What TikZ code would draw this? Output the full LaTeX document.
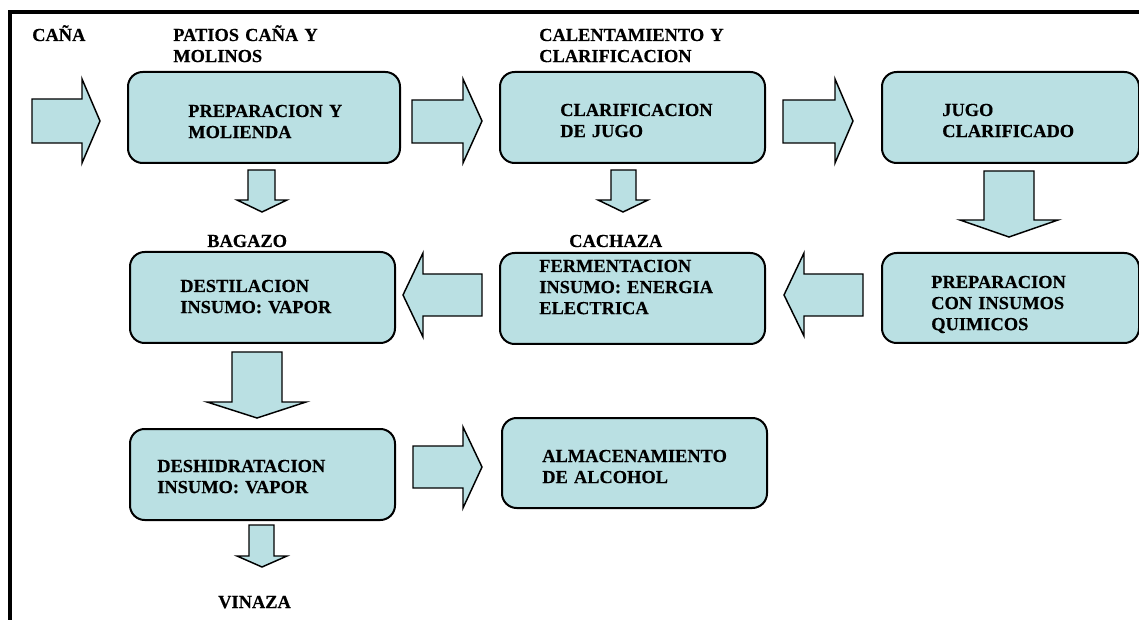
\documentclass[tikz,border=0pt]{standalone}
\usepackage{fontspec}
\setmainfont{Liberation Serif}[BoldFeatures={FakeBold=0.35}]
\usetikzlibrary{fit}
\definecolor{boxfill}{RGB}{186,224,227}
\tikzset{
  procbox/.style={draw=black, line width=1.5pt, fill=boxfill, rounded corners=11pt, inner sep=0pt},
  blockarrow/.style={draw=black, line width=1.1pt, fill=boxfill, line join=miter},
  lbl/.style={anchor=base west, inner sep=0pt, align=left, text width=260pt,
     font=\bfseries\fontsize{13.8pt}{15.8pt}\selectfont},
  frameline/.style={draw=black, line width=2.6pt}
}
\begin{document}
\begin{tikzpicture}[x=0.75pt, y=-0.75pt]
\useasboundingbox (0,0) rectangle (1139,620);
% frame
\draw[frameline] (10,620) -- (10,12) -- (1145,12);
% boxes
\node[procbox, fit={(128,72) (400,163)}] (b1) {};
\node[procbox, fit={(500,72) (765,163)}] (b2) {};
\node[procbox, fit={(882,72) (1139,163)}] (b3) {};
\node[procbox, fit={(882,253) (1139,343)}] (b4) {};
\node[procbox, fit={(500,253) (765,344)}] (b5) {};
\node[procbox, fit={(130,252) (395,343)}] (b6) {};
\node[procbox, fit={(130,429) (395,520)}] (b7) {};
\node[procbox, fit={(502,418) (767,508)}] (b8) {};
% block arrows
\draw[blockarrow] (32,99)--(82,99)--(82,79)--(100,121)--(82,163)--(82,143)--(32,143)--cycle;
\draw[blockarrow] (412,100)--(463,100)--(463,79)--(482,121)--(463,163)--(463,143)--(412,143)--cycle;
\draw[blockarrow] (783,100)--(835,100)--(835,79)--(853,121)--(835,163)--(835,143)--(783,143)--cycle;
\draw[blockarrow] (248,170)--(275,170)--(275,200)--(287,200)--(262,212)--(237,200)--(248,200)--cycle;
\draw[blockarrow] (611,170)--(636,170)--(636,200)--(648,200)--(623,212)--(598,200)--(611,200)--cycle;
\draw[blockarrow] (984,171)--(1034,171)--(1034,220)--(1058,220)--(1009,237)--(960,220)--(984,220)--cycle;
\draw[blockarrow] (863,274)--(804,274)--(804,253)--(784,295)--(804,336)--(804,316)--(863,316)--cycle;
\draw[blockarrow] (482,274)--(423,274)--(423,253)--(403,295)--(423,337)--(423,316)--(482,316)--cycle;
\draw[blockarrow] (232,352)--(282,352)--(282,402)--(306,402)--(257,418)--(207,402)--(232,402)--cycle;
\draw[blockarrow] (413,446)--(463,446)--(463,427)--(482,467)--(463,508)--(463,488)--(413,488)--cycle;
\draw[blockarrow] (249,525)--(274,525)--(274,556)--(287,556)--(262,567)--(237,556)--(249,556)--cycle;
% labels
\node[lbl] (tcana) at (32,41) {CAÑA};
\node[lbl] (tpatios) at (173,41) {PATIOS CAÑA Y\\MOLINOS};
\node[lbl] (tcalent) at (539,41) {CALENTAMIENTO Y\\CLARIFICACION};
\node[lbl] (t1) at (188,117) {PREPARACION Y\\MOLIENDA};
\node[lbl] (t2) at (560,116) {CLARIFICACION\\DE JUGO};
\node[lbl] (t3) at (942,116) {JUGO\\CLARIFICADO};
\node[lbl] (tbag) at (207,247) {BAGAZO};
\node[lbl] (tcach) at (569,247) {CACHAZA};
\node[lbl] (t4) at (931,288) {PREPARACION\\CON INSUMOS\\QUIMICOS};
\node[lbl] (t5) at (539,272) {FERMENTACION\\INSUMO: ENERGIA\\ELECTRICA};
\node[lbl] (t6) at (180,292) {DESTILACION\\INSUMO: VAPOR};
\node[lbl] (t7) at (157,472) {DESHIDRATACION\\INSUMO: VAPOR};
\node[lbl] (t8) at (542,462) {ALMACENAMIENTO\\DE ALCOHOL};
\node[lbl] (tvin) at (218,608) {VINAZA};
\end{tikzpicture}
\end{document}
